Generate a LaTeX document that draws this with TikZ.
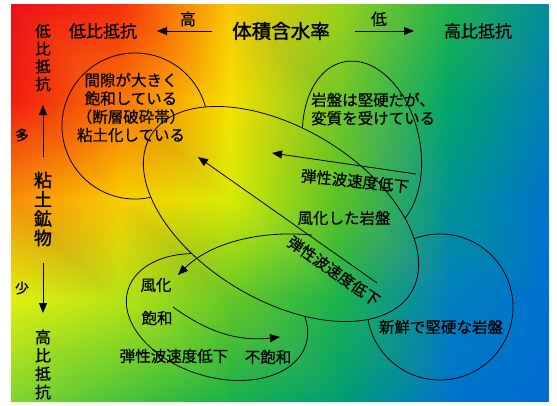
\documentclass[tikz,border=0pt]{standalone}
\usepackage{fontspec}
\setmainfont{Noto Sans CJK JP}[FakeBold=0.5]
\newfontfamily\jpmed{Noto Sans CJK JP}[FakeBold=0.6]
\newfontfamily\jpbold{Noto Sans CJK JP}[FakeBold=1.5]
\usepackage{pgfplots}
\pgfplotsset{compat=1.18}
\usetikzlibrary{arrows.meta}
\tikzset{
  lbl/.style={inner sep=0pt, text=black, font=\jpmed\fontsize{15.5pt}{18.3pt}\selectfont},
  vlbl/.style={inner sep=0pt, text=black, align=center, font=\jpmed\fontsize{15.5pt}{17.7pt}\selectfont},
  ol/.style={draw=black, line width=0.8pt},
  arr/.style={draw=black, line width=0.8pt, -{Triangle[length=10pt,width=8pt]}},
}
\begin{document}
\begin{tikzpicture}
\useasboundingbox (0pt,0pt) rectangle (557pt,-405pt);
\fill[white] (0pt,0pt) rectangle (557pt,-405pt);
% background gradient
\begin{axis}[at={(11pt,-401pt)}, anchor=south west, scale only axis,
  width=538pt, height=397pt, hide axis, view={0}{90},
  xmin=11, xmax=549, ymin=-401, ymax=-4, zmin=-1, zmax=1,
  enlargelimits=false, clip=false]
\addplot3[surf, shader=interp, mesh/color input=explicit,
  point meta=explicit symbolic, mesh/cols=6] table[meta=c] {
x y z c
11 -4 0 rgb=0.93,0.06,0.10
120 -4 0 rgb=0.97,0.18,0.05
230 -4 0 rgb=0.98,0.78,0.02
340 -4 0 rgb=0.60,0.82,0.10
450 -4 0 rgb=0.12,0.70,0.30
549 -4 0 rgb=0.00,0.55,0.62
11 -100 0 rgb=0.95,0.10,0.06
120 -100 0 rgb=0.97,0.45,0.02
230 -100 0 rgb=0.97,0.88,0.00
340 -100 0 rgb=0.45,0.78,0.15
450 -100 0 rgb=0.00,0.65,0.42
549 -100 0 rgb=0.00,0.50,0.72
11 -200 0 rgb=0.97,0.55,0.04
120 -200 0 rgb=0.98,0.80,0.00
230 -200 0 rgb=0.85,0.92,0.02
340 -200 0 rgb=0.35,0.76,0.15
450 -200 0 rgb=0.00,0.58,0.58
549 -200 0 rgb=0.00,0.45,0.80
11 -300 0 rgb=0.88,0.94,0.06
120 -300 0 rgb=0.72,0.89,0.08
230 -300 0 rgb=0.40,0.78,0.15
340 -300 0 rgb=0.10,0.70,0.30
450 -300 0 rgb=0.00,0.50,0.75
549 -300 0 rgb=0.00,0.44,0.82
11 -401 0 rgb=0.52,0.83,0.18
120 -401 0 rgb=0.30,0.77,0.22
230 -401 0 rgb=0.10,0.70,0.28
340 -401 0 rgb=0.00,0.62,0.45
450 -401 0 rgb=0.00,0.46,0.80
549 -401 0 rgb=0.00,0.42,0.82
};
\end{axis}

\begin{scope}[x=1pt, y=-1pt]
% shapes hidden behind the central ellipse
\begin{scope}
  \pgfpathrectanglecorners{\pgfpoint{0pt}{0pt}}{\pgfpoint{557pt}{-405pt}}
  \pgfpathellipse{\pgfpoint{281pt}{-214pt}}{\pgfpoint{130.29pt}{-78.28pt}}{\pgfpoint{44.29pt}{73.72pt}}
  \pgfseteorule
  \pgfusepath{clip}
  \draw[ol] (135,126) circle [radius=73pt];
  \draw[ol, shift={(362,148)}, rotate=12] (0,0) ellipse [x radius=58pt, y radius=88pt];
  \draw[ol, shift={(217,317)}, rotate=-17] (0,0) ellipse [x radius=93pt, y radius=60pt];
  \draw[ol] (440,307) circle [radius=73pt];
\end{scope}
% central ellipse
\draw[ol, shift={(281,214)}, rotate=-31] (0,0) ellipse [x radius=152pt, y radius=86pt];

% top axis
\node[lbl, font=\jpmed\fontsize{17pt}{20pt}\selectfont] (lowL) at (103,31) {低比抵抗};
\node[lbl, font=\jpmed\fontsize{17pt}{20pt}\selectfont] (highL) at (478,31) {高比抵抗};
\node[lbl, font=\jpbold\fontsize{19.5pt}{22pt}\selectfont] (vol) at (281,31) {体積含水率};
\node[lbl, font=\jpmed\fontsize{16pt}{18pt}\selectfont] (hi) at (188,19) {高};
\node[lbl, font=\jpmed\fontsize{16pt}{18pt}\selectfont] (lo) at (379,19) {低};
\coordinate (ta1) at (212,31);
\coordinate (ta2) at (157,31);
\coordinate (ta3) at (355,31);
\coordinate (ta4) at (414,31);
\draw[arr] (ta1) -- (ta2);
\draw[arr] (ta3) -- (ta4);

% left axis
\node[vlbl] (vlow) at (43,57.5) {低\\比\\抵\\抗};
\node[vlbl, font=\jpbold\fontsize{18pt}{19.3pt}\selectfont] (clay) at (43,209) {粘\\土\\鉱\\物};
\node[vlbl, font=\jpmed\fontsize{16pt}{18.3pt}\selectfont] (vhigh) at (43,364.5) {高\\比\\抵\\抗};
\node[lbl, font=\jpmed\fontsize{14pt}{16pt}\selectfont] (many) at (22,135) {多};
\node[lbl, font=\jpmed\fontsize{14pt}{16pt}\selectfont] (few) at (22,288) {少};
\coordinate (la1) at (43,157);
\coordinate (la2) at (43,105);
\coordinate (la3) at (43,263);
\coordinate (la4) at (43,313);
\draw[arr] (la1) -- (la2);
\draw[arr] (la3) -- (la4);

% texts in shapes
\node[lbl, align=center] (gap) at (131,107.5) {間隙が大きく\\飽和している\\（断層破砕帯）\\粘土化している};
\node[lbl, align=left, anchor=west] (alt) at (311,109) {岩盤は堅硬だが、\\変質を受けている};
\node[lbl] (weath) at (344,218) {風化した岩盤};
\node[lbl] (fresh) at (441,327) {新鮮で堅硬な岩盤};
\node[lbl] (fuka) at (156,285) {風化};
\node[lbl] (howa) at (157,318) {飽和};
\node[lbl] (dan3) at (174,356) {弾性波速度低下};
\node[lbl] (fuhowa) at (268,357) {不飽和};
\node[lbl, rotate=-6] (dan1) at (355,181) {弾性波速度低下};
\node[lbl, rotate=-35] (dan2) at (334,271) {弾性波速度低下};

% arrows
\coordinate (a1s) at (416,174);
\coordinate (a1e) at (272,153);
\coordinate (a2s) at (377,283);
\coordinate (a2e) at (198,157);
\coordinate (a3s) at (312,235);
\coordinate (a3e) at (178,275);
\coordinate (a4s) at (173,307);
\coordinate (a4e) at (280,337);
\draw[arr] (a1s) -- (a1e);
\draw[arr] (a2s) -- (a2e);
\draw[arr] (a3s) .. controls (260,230) and (210,243) .. (a3e);
\draw[arr] (a4s) .. controls (205,330) and (235,342) .. (a4e);
\end{scope}
\end{tikzpicture}
\end{document}
